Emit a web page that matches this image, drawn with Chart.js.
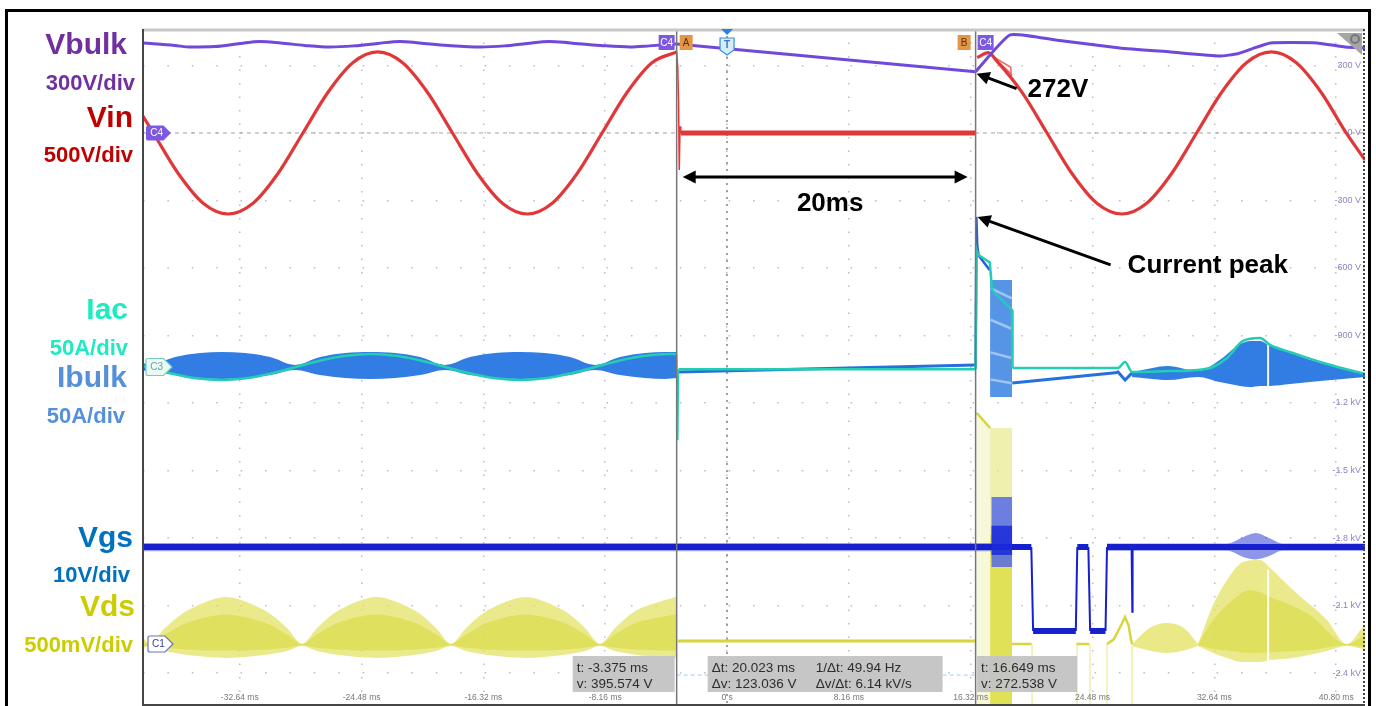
<!DOCTYPE html>
<html>
<head>
<meta charset="utf-8">
<script src="https://cdn.jsdelivr.net/npm/chart.js@4.4.1/dist/chart.umd.min.js"></script>
<style>
  html, body { margin: 0; padding: 0; background: #fff; overflow: hidden; }
  canvas { display: block; }
</style>
</head>
<body>
<canvas id="scope" width="1376" height="706"></canvas>
<script>
// ---------- axes: time in ms, vertical in volts of the C4 grid (300 V/div) ----------
const timeTicks = [-32.64, -24.48, -16.32, -8.16, 0, 8.16, 16.32, 24.48, 32.64, 40.80];
const timeTickLabels = ['-32.64 ms', '-24.48 ms', '-16.32 ms', '-8.16 ms', '0 s', '8.16 ms', '16.32 ms', '24.48 ms', '32.64 ms', '40.80 ms'];
const voltTicks = [300, 0, -300, -600, -900, -1200, -1500, -1800, -2100, -2400];
const voltTickLabels = ['300 V', '0 V', '-300 V', '-600 V', '-900 V', '-1.2 kV', '-1.5 kV', '-1.8 kV', '-2.1 kV', '-2.4 kV'];
const timeRange = [-39.12, 42.73];
const voltRange = [-2542, 462];

// ---------- cursors ----------
const cursorA = { t: -3.375, v: 395.574 };
const cursorB = { t: 16.649, v: 272.538 };
const readoutA = ['t: -3.375 ms', 'v: 395.574 V'];
const readoutDelta = [['Δt: 20.023 ms', '1/Δt: 49.94 Hz'], ['Δv: 123.036 V', 'Δv/Δt: 6.14 kV/s']];
const readoutB = ['t: 16.649 ms', 'v: 272.538 V'];

// ---------- Vbulk (C4) ----------
const vbulkRippleT = [-39.12, -37.0, -35.97, -34.3, -32.6, -31.3, -29.9, -28.3, -26.6, -25.0, -23.4, -21.9, -20.6, -18.7, -16.5, -14.9, -13.4, -11.9, -10.5, -8.5, -6.5, -5.2, -3.375];
const vbulkRippleV = [400, 389, 382, 384, 398, 407, 400, 389, 382, 387, 398, 407, 400, 389, 382, 387, 398, 407, 400, 389, 382, 387, 395.574];
const vbulkHoldT = [-3.375, 16.649];
const vbulkHoldV = [395.574, 272.538];
const vbulkRecoverT = [16.649, 18.96, 22.0, 26.3, 29.7, 33.0, 34.2, 35.2, 36.4, 39.5, 41.4, 42.73];
const vbulkRecoverV = [272.538, 436, 413, 378, 360, 342, 352, 375, 400, 400, 382, 378];

// ---------- Vin ----------
const vinLineT = [-39.12, -38.43, -36.76, -35.09, -33.42, -31.75, -30.08, -28.41, -26.74, -25.07, -23.40, -21.73, -20.06, -18.39, -16.72, -15.05, -13.38, -11.71, -10.04, -8.37, -6.70, -5.03, -3.375];
const vinLineV = [75, 0, -180, -312, -360, -312, -180, 0, 180, 312, 360, 312, 180, 0, -180, -312, -360, -312, -180, 0, 180, 312, 360];
const vinDropT = [-3.375, -3.30, -3.25, -3.20, -3.15, -3.10];
const vinDropV = [360, 290, 147, -164, 30, 0];
const vinOffT = [-3.10, 16.649];
const vinOffV = [0, 0];
const vinBackT = [16.75, 17.5, 18.09, 19.76, 21.43, 23.10, 24.77, 26.44, 28.11, 29.78, 31.45, 33.12, 34.79, 36.46, 38.13, 39.80, 41.47, 42.73];
const vinBackV = [335, 357, 318, 180, 0, -180, -312, -360, -312, -180, 0, 180, 312, 360, 312, 180, 0, -120];
const vinRingT = [17.6, 19.1, null, 17.8, 19.0, 19.05];
const vinRingV = [352, 258, null, 340, 292, 240];

// ---------- Iac (C3) ----------
const iacLineT = [-39.12, -38.9, -37.23, -35.56, -33.89, -32.22, -30.55, -28.88, -27.21, -25.54, -23.87, -22.2, -20.53, -18.86, -17.19, -15.52, -13.85, -12.18, -10.51, -8.84, -7.17, -5.5, -3.83, -3.375];
const iacLineV = [-1036, -1040, -1069, -1090, -1098, -1090, -1069, -1040, -1011, -990, -982, -990, -1011, -1040, -1069, -1090, -1098, -1090, -1069, -1040, -1011, -990, -982, -983];
const iacDropT = [-3.375, -3.3, -3.25];
const iacDropV = [-983, -1364, -1050];
const iacOffT = [-3.25, 16.649];
const iacOffV = [-1050, -1050];
const iacSurgeT = [16.649, 16.72, 16.8, 17.6, 17.75, 19.09, 19.12];
const iacSurgeV = [-1050, -520, -540, -575, -698, -787, -1044];
const iacBackT = [19.12, 26.19, 26.66, 27.13, 29.5, 31.55, 32.55, 33.49, 34.56, 35.7, 36.37, 37.91, 40.18, 42.73];
const iacBackV = [-1044, -1044, -1018, -1062, -1058, -1053, -1040, -1000, -924, -911, -942, -978, -1027, -1071];

// ---------- Ibulk ----------
const ibulkT = [-39.12, -38.65, -36.97, -35.3, -33.82, -32.28, -30.61, -28.94, -27.26, -25.59, -23.91, -22.23, -20.56, -18.89, -17.21, -15.54, -13.86, -12.2, -10.52, -8.84, -7.17, -5.49, -4.15, -3.375];
const ibulkTop = [-1022, -1031, -996, -978, -973, -978, -996, -1031, -996, -978, -973, -978, -996, -1031, -996, -978, -973, -978, -996, -1031, -996, -978, -973, -973];
const ibulkBottom = [-1058, -1053, -1076, -1089, -1093, -1089, -1076, -1053, -1076, -1089, -1093, -1089, -1076, -1053, -1076, -1089, -1093, -1089, -1076, -1053, -1076, -1089, -1093, -1089];
const ibulkOffT = [-3.3, 16.649];
const ibulkOffV = [-1062, -1031];
const ibulkSurgeT = [16.649, 16.70, 16.76, 16.85, 17.6];
const ibulkSurgeV = [-1031, -373, -500, -545, -610];
const ibulkBurstT = [17.62, 19.09];
const ibulkBurstTop = [-653, -653];
const ibulkBurstBottom = [-1173, -1173];
const ibulkStreakT = [17.64, 19.07, null, 17.64, 19.07, null, 17.64, 19.07, null, 17.64, 19.07];
const ibulkStreakV = [-690, -735, null, -830, -870, null, -975, -1000, null, -1095, -1112];
const ibulkTailT = [19.1, 26.0, 26.19, 26.66, 27.13];
const ibulkTailV = [-1111, -1066, -1062, -1098, -1066];
const ibulkRiseT = [27.13, 28.5, 29.5, 31.55, 33.0, 34.36, 35.03, 35.7, 36.37, 37.71, 39.72, 42.73];
const ibulkRiseTop = [-1062, -1044, -1036, -1058, -1009, -938, -924, -924, -947, -978, -1022, -1071];
const ibulkRiseBottom = [-1084, -1093, -1098, -1084, -1107, -1124, -1129, -1124, -1124, -1116, -1102, -1084];
const dropoutT = [36.24, 36.24, null, 36.24, 36.24];
const dropoutV = [-880, -1135, null, -1940, -2365];

// ---------- Vgs ----------
const vgsT = [-39.12, 20.38, 20.5, 23.36, 23.46, 24.2, 24.32, 25.35, 25.45, 42.73];
const vgsV = [-1840, -1840, -2213, -2213, -1840, -1840, -2213, -2213, -1840, -1840];
const vgsGlitchT = [27.08, 27.13, 27.18];
const vgsGlitchV = [-1840, -2129, -1840];
const vgsNoiseT = [-39.12, 17.7];
const vgsNoiseTop = [-1822, -1822];
const vgsNoiseBottom = [-1859, -1859];
const vgsBurstT = [17.7, 19.1];
const vgsBurstTop = [-1618, -1618];
const vgsBurstBottom = [-1929, -1929];
const vgsBurstCoreTop = [-1745, -1745];
const vgsBurstCoreBottom = [-1875, -1875];
const vgsTailNoiseT = [25.45, 33.5, 34.6, 35.4, 36.3, 37.2, 42.73];
const vgsTailNoiseTop = [-1824, -1824, -1795, -1778, -1800, -1824, -1824];
const vgsTailNoiseBottom = [-1857, -1857, -1885, -1895, -1880, -1857, -1857];

// ---------- Vds (C1) ----------
const vdsT = [-39.12, -38.65, -37.64, -36.10, -33.55, -31.01, -29.47, -28.47, -27.46, -25.99, -23.48, -20.96, -19.49, -18.49, -17.48, -16.01, -13.50, -10.98, -9.51, -8.51, -7.50, -6.03, -3.48, -3.375];
const vdsTop = [-2240, -2271, -2200, -2120, -2062, -2120, -2200, -2271, -2200, -2120, -2062, -2120, -2200, -2271, -2200, -2120, -2062, -2120, -2200, -2271, -2200, -2120, -2062, -2062];
const vdsBottom = [-2289, -2280, -2302, -2320, -2333, -2320, -2302, -2280, -2302, -2320, -2333, -2320, -2302, -2280, -2302, -2320, -2333, -2320, -2302, -2280, -2302, -2320, -2333, -2333];
const vdsCoreTop = [-2262, -2271, -2228, -2175, -2140, -2175, -2228, -2271, -2228, -2175, -2140, -2175, -2228, -2271, -2228, -2175, -2140, -2175, -2228, -2271, -2228, -2175, -2140, -2140];
const vdsCoreBottom = [-2282, -2276, -2288, -2296, -2300, -2296, -2288, -2276, -2288, -2296, -2300, -2296, -2288, -2276, -2288, -2296, -2300, -2296, -2288, -2276, -2288, -2296, -2300, -2300];
const vdsOffT = [-3.3, 16.649];
const vdsOffV = [-2258, -2258];
const vdsWashT = [16.72, 17.62];
const vdsWashTop = [-1244, -1311];
const vdsWashBottom = [-2542, -2542];
const vdsBlockT = [17.62, 19.09];
const vdsBlockTop = [-1311, -1311];
const vdsBlockMid = [-1786, -1786];
const vdsBlockBottom = [-2542, -2542];
const vdsPiecesT = [16.72, 17.62, null, 19.09, 20.4, null, 23.4, 24.25, null, 25.45, 25.9, 26.3, 26.66, 26.9, 27.05, 27.13];
const vdsPiecesV = [-1244, -1311, null, -2271, -2271, null, -2271, -2271, null, -2271, -2250, -2200, -2151, -2190, -2250, -2271];
const vdsTracesT = [20.43, 20.43, null, 23.44, 23.44, null, 24.31, 24.31, null, 25.45, 25.45, null, 27.13, 27.13];
const vdsTracesV = [-2271, -2542, null, -2271, -2542, null, -2271, -2542, null, -2271, -2542, null, -2271, -2542];
const vdsSmallT = [27.13, 28.3, 29.47, 30.6, 31.55];
const vdsSmallTop = [-2271, -2200, -2178, -2200, -2271];
const vdsSmallBottom = [-2280, -2300, -2311, -2300, -2280];
const vdsBigT = [31.55, 32.55, 33.49, 34.56, 35.70, 36.37, 37.91, 40.18, 41.52, 42.53, 42.73];
const vdsBigTop = [-2271, -2098, -1987, -1907, -1898, -1933, -2031, -2164, -2271, -2200, -2185];
const vdsBigBottom = [-2280, -2311, -2333, -2351, -2351, -2342, -2333, -2302, -2280, -2293, -2296];
const vdsBigCoreT = [31.55, 32.55, 33.49, 35.03, 36.37, 39.05, 41.52, 42.73];
const vdsBigCoreTop = [-2271, -2164, -2098, -2031, -2062, -2142, -2271, -2230];
const vdsBigCoreBottom = [-2276, -2292, -2300, -2311, -2308, -2298, -2276, -2285];

// ---------- colours ----------
const C = {
  vbulk: 'rgb(112,72,218)', vin: 'rgb(224,56,56)', iac: 'rgb(34,206,178)', ibulk: 'rgba(38,118,226,0.95)',
  vgs: 'rgb(22,32,205)', vds: 'rgb(214,214,60)', cursor: 'rgb(118,118,118)', grid: 'rgba(178,178,178,0.85)'
};
const FONT = '"Liberation Sans", Arial, Helvetica, sans-serif';

// ---------- dataset builders ----------
const pts = (ts, vs) => ts.map((t, i) => ({ x: t === null ? ts[i - 1] : t, y: t === null ? null : vs[i] }));
const datasets = [];
function line(ts, vs, opts) {
  datasets.push(Object.assign({ data: pts(ts, vs), borderWidth: 2, pointRadius: 0, fill: false, tension: 0, spanGaps: false }, opts));
}
function band(ts, top, bottom, color, order, opts) {
  datasets.push(Object.assign({ data: pts(ts, bottom), borderWidth: 1, borderColor: 'rgba(0,0,0,0)', pointRadius: 0, fill: false, order }, opts));
  datasets.push(Object.assign({ data: pts(ts, top), borderWidth: 1, borderColor: 'rgba(0,0,0,0)', pointRadius: 0, fill: '-1', backgroundColor: color, order }, opts));
}
const smooth = { cubicInterpolationMode: 'monotone' };

// reference lines (back)
line([timeRange[0], timeRange[1]], [0, 0], { borderColor: 'rgba(150,150,150,0.9)', borderWidth: 1, borderDash: [4, 4], order: 20 });
line([0, 0], [voltRange[1], voltRange[0]], { borderColor: 'rgba(150,150,150,0.9)', borderWidth: 2, borderDash: [2, 5], order: 20 });
line([cursorA.t, cursorB.t], [-2409, -2409], { borderColor: 'rgba(90,200,225,0.7)', borderWidth: 1, borderDash: [4, 3], order: 20 });

// Vds
band(vdsT, vdsTop, vdsBottom, 'rgba(226,226,96,0.72)', 16, { tension: 0.3 });
band(vdsT, vdsCoreTop, vdsCoreBottom, 'rgba(212,212,40,0.45)', 15, { tension: 0.3 });
line(vdsOffT, vdsOffV, { borderColor: C.vds, borderWidth: 3, order: 15 });
band(vdsWashT, vdsWashTop, vdsWashBottom, 'rgba(238,238,170,0.45)', 16);
band(vdsBlockT, vdsBlockTop, vdsBlockMid, 'rgba(232,232,140,0.7)', 16);
band(vdsBlockT, vdsBlockMid, vdsBlockBottom, 'rgba(222,222,70,0.9)', 16);
line(vdsTracesT, vdsTracesV, { borderColor: 'rgba(232,232,150,0.75)', borderWidth: 1.5, order: 16 });
line(vdsPiecesT, vdsPiecesV, { borderColor: C.vds, borderWidth: 2.5, order: 15 });
band(vdsSmallT, vdsSmallTop, vdsSmallBottom, 'rgba(226,226,96,0.75)', 16, smooth);
band(vdsBigT, vdsBigTop, vdsBigBottom, 'rgba(226,226,96,0.72)', 16, smooth);
band(vdsBigCoreT, vdsBigCoreTop, vdsBigCoreBottom, 'rgba(212,212,40,0.45)', 15, smooth);

// Vgs
band(vgsNoiseT, vgsNoiseTop, vgsNoiseBottom, 'rgba(30,45,210,0.45)', 13);
band(vgsTailNoiseT, vgsTailNoiseTop, vgsTailNoiseBottom, 'rgba(30,45,210,0.5)', 13, smooth);
band(vgsBurstT, vgsBurstTop, vgsBurstBottom, 'rgba(70,95,238,0.78)', 13);
band(vgsBurstT, vgsBurstCoreTop, vgsBurstCoreBottom, 'rgba(28,42,218,0.85)', 12);
line(vgsT, vgsV, {
  borderColor: C.vgs, borderWidth: 6, order: 12,
  segment: { borderWidth: ctx => Math.abs(ctx.p1.parsed.x - ctx.p0.parsed.x) < 0.2 ? 2 : 6 }
});
line(vgsGlitchT, vgsGlitchV, { borderColor: C.vgs, borderWidth: 1.5, order: 12 });

// white dropout through the last burst
line(dropoutT, dropoutV, { borderColor: 'rgba(255,255,255,0.95)', borderWidth: 2, order: 11 });

// Ibulk
band(ibulkT, ibulkTop, ibulkBottom, C.ibulk, 10, smooth);
line(ibulkOffT, ibulkOffV, { borderColor: 'rgb(40,110,220)', borderWidth: 3, order: 10 });
line(ibulkSurgeT, ibulkSurgeV, { borderColor: 'rgb(40,95,215)', borderWidth: 2.5, order: 10 });
band(ibulkBurstT, ibulkBurstTop, ibulkBurstBottom, 'rgba(72,140,228,0.92)', 10);
line(ibulkStreakT, ibulkStreakV, { borderColor: 'rgba(175,205,245,0.85)', borderWidth: 2.5, order: 9 });
line(ibulkTailT, ibulkTailV, { borderColor: 'rgb(38,112,222)', borderWidth: 3, order: 10 });
band(ibulkRiseT, ibulkRiseTop, ibulkRiseBottom, C.ibulk, 10, smooth);
line(dropoutT.slice(0, 2), dropoutV.slice(0, 2), { borderColor: 'rgba(255,255,255,0.95)', borderWidth: 2, order: 8 });

// Iac
line(iacLineT, iacLineV, Object.assign({ borderColor: C.iac, borderWidth: 2.5, order: 7 }, smooth));
line(iacDropT, iacDropV, { borderColor: C.iac, borderWidth: 1.5, order: 7 });
line(iacOffT, iacOffV, { borderColor: C.iac, borderWidth: 2.5, order: 7 });
line(iacSurgeT, iacSurgeV, { borderColor: C.iac, borderWidth: 2.5, order: 7 });
line(iacBackT, iacBackV, Object.assign({ borderColor: C.iac, borderWidth: 2.5, order: 7 }, smooth));

// Vin
line(vinLineT, vinLineV, Object.assign({ borderColor: C.vin, borderWidth: 3.2, order: 5 }, smooth));
line(vinDropT, vinDropV, { borderColor: C.vin, borderWidth: 1.5, order: 5 });
line(vinOffT, vinOffV, { borderColor: C.vin, borderWidth: 5, order: 5 });
line(vinBackT, vinBackV, Object.assign({ borderColor: C.vin, borderWidth: 3.2, order: 5 }, smooth));
line(vinRingT, vinRingV, { borderColor: 'rgba(228,70,70,0.8)', borderWidth: 1.5, order: 5 });

// Vbulk
line(vbulkRippleT, vbulkRippleV, Object.assign({ borderColor: C.vbulk, borderWidth: 3, order: 4 }, smooth));
line(vbulkHoldT, vbulkHoldV, { borderColor: C.vbulk, borderWidth: 3, order: 4 });
line(vbulkRecoverT, vbulkRecoverV, { borderColor: C.vbulk, borderWidth: 3, order: 4, tension: 0.15 });

// cursors
line([cursorA.t, cursorA.t], [voltRange[1], voltRange[0]], { borderColor: C.cursor, borderWidth: 1.5, order: 1 });
line([cursorB.t, cursorB.t], [voltRange[1], voltRange[0]], { borderColor: C.cursor, borderWidth: 1.5, order: 1 });

// ---------- drawing helpers ----------
function tag(ctx, x, y, w, h, fill, stroke, text, color, pointed) {
  ctx.save();
  ctx.beginPath();
  if (pointed) {
    ctx.moveTo(x + 2, y);
    ctx.lineTo(x + w - h / 2, y);
    ctx.lineTo(x + w, y + h / 2);
    ctx.lineTo(x + w - h / 2, y + h);
    ctx.lineTo(x + 2, y + h);
    ctx.quadraticCurveTo(x, y + h, x, y + h - 2);
    ctx.lineTo(x, y + 2);
    ctx.quadraticCurveTo(x, y, x + 2, y);
  } else {
    ctx.rect(x, y, w, h);
  }
  ctx.fillStyle = fill;
  ctx.fill();
  if (stroke) { ctx.strokeStyle = stroke; ctx.lineWidth = 1.2; ctx.stroke(); }
  ctx.fillStyle = color;
  ctx.font = `10px ${FONT}`;
  ctx.textAlign = 'center';
  ctx.textBaseline = 'middle';
  ctx.fillText(text, x + (pointed ? (w - h / 2) / 2 + 2 : w / 2), y + h / 2 + 0.5);
  ctx.restore();
}

function arrow(ctx, x1, y1, x2, y2, both) {
  const L = 13, W = 6.5;
  const a = Math.atan2(y2 - y1, x2 - x1);
  const head = (x, y, ang) => {
    ctx.beginPath();
    ctx.moveTo(x, y);
    ctx.lineTo(x - L * Math.cos(ang) + W * Math.sin(ang), y - L * Math.sin(ang) - W * Math.cos(ang));
    ctx.lineTo(x - L * Math.cos(ang) - W * Math.sin(ang), y - L * Math.sin(ang) + W * Math.cos(ang));
    ctx.closePath();
    ctx.fill();
  };
  ctx.save();
  ctx.strokeStyle = '#000';
  ctx.fillStyle = '#000';
  ctx.lineWidth = 3;
  ctx.beginPath();
  ctx.moveTo(both ? x1 + (L - 3) * Math.cos(a) : x1, both ? y1 + (L - 3) * Math.sin(a) : y1);
  ctx.lineTo(x2 - (L - 3) * Math.cos(a), y2 - (L - 3) * Math.sin(a));
  ctx.stroke();
  head(x2, y2, a);
  if (both) head(x1, y1, a + Math.PI);
  ctx.restore();
}

function readout(ctx, x, y, w, h, rows, cols) {
  ctx.save();
  ctx.fillStyle = 'rgba(196,196,196,0.96)';
  ctx.beginPath();
  ctx.rect(x, y, w, h);
  ctx.fill();
  ctx.fillStyle = 'rgb(45,45,45)';
  ctx.font = `13.5px ${FONT}`;
  ctx.textAlign = 'left';
  ctx.textBaseline = 'alphabetic';
  rows.forEach((row, r) => {
    const cells = Array.isArray(row) ? row : [row];
    cells.forEach((txt, c) => ctx.fillText(txt, x + 4 + (cols ? cols[c] : 0), y + 16 + r * 16));
  });
  ctx.restore();
}

const sideLabels = [
  { text: 'Vbulk', size: 30, color: '#7030A0', x: 127, y: 54 },
  { text: '300V/div', size: 22, color: '#7030A0', x: 135, y: 90 },
  { text: 'Vin', size: 30, color: '#C00000', x: 133, y: 127 },
  { text: '500V/div', size: 22, color: '#C00000', x: 133, y: 162 },
  { text: 'Iac', size: 30, color: '#1EEBC3', x: 128, y: 319 },
  { text: '50A/div', size: 22, color: '#1EEBC3', x: 128, y: 355 },
  { text: 'Ibulk', size: 30, color: '#5590D9', x: 127, y: 387 },
  { text: '50A/div', size: 22, color: '#5590D9', x: 125, y: 423 },
  { text: 'Vgs', size: 30, color: '#0070C0', x: 133, y: 547 },
  { text: '10V/div', size: 22, color: '#0070C0', x: 130, y: 582 },
  { text: 'Vds', size: 30, color: '#CCCC00', x: 135, y: 616 },
  { text: '500mV/div', size: 22, color: '#CCCC00', x: 133, y: 652 }
];

const scopeDecor = {
  id: 'scopeDecor',
  beforeDraw(chart) {
    const ctx = chart.ctx;
    ctx.save();
    ctx.fillStyle = '#fff';
    ctx.fillRect(0, 0, chart.width, chart.height);
    ctx.restore();
  },
  afterDatasetsDraw(chart) {
    const ctx = chart.ctx;
    const { left, right, top, bottom } = chart.chartArea;
    const xs = chart.scales.x, ys = chart.scales.y;
    const ax = xs.getPixelForValue(cursorA.t), bx = xs.getPixelForValue(cursorB.t), tx = xs.getPixelForValue(0);
    ctx.save();

    // plot border
    ctx.strokeStyle = 'rgb(200,200,200)'; ctx.lineWidth = 3;
    ctx.beginPath(); ctx.moveTo(left, top + 1); ctx.lineTo(right, top + 1); ctx.stroke();
    ctx.strokeStyle = 'rgb(70,70,70)'; ctx.lineWidth = 2;
    ctx.beginPath(); ctx.moveTo(left, top); ctx.lineTo(left, chart.height); ctx.stroke();
    ctx.beginPath(); ctx.moveTo(left, bottom); ctx.lineTo(right, bottom); ctx.stroke();
    ctx.setLineDash([2, 2]);
    ctx.beginPath(); ctx.moveTo(right - 1, top); ctx.lineTo(right - 1, chart.height); ctx.stroke();
    ctx.setLineDash([]);

    // tick labels
    ctx.font = `8.5px ${FONT}`;
    ctx.fillStyle = 'rgb(120,120,120)';
    ctx.textAlign = 'center'; ctx.textBaseline = 'alphabetic';
    timeTicks.forEach((t, i) => ctx.fillText(timeTickLabels[i], xs.getPixelForValue(t), bottom - 5));
    ctx.font = `9px ${FONT}`;
    ctx.fillStyle = 'rgba(125,105,185,0.85)';
    ctx.textAlign = 'right'; ctx.textBaseline = 'middle';
    voltTicks.forEach((v, i) => ctx.fillText(voltTickLabels[i], right - 4, ys.getPixelForValue(v)));

    // channel tags
    tag(ctx, left + 3, ys.getPixelForValue(0) - 7.5, 25, 15, 'rgb(125,88,225)', null, 'C4', '#fff', true);
    tag(ctx, left + 3, ys.getPixelForValue(-1040) - 8.5, 26, 17, 'rgb(236,250,246)', 'rgb(120,205,185)', 'C3', 'rgb(100,165,155)', true);
    tag(ctx, left + 5, ys.getPixelForValue(-2271) - 8, 25, 16, '#fff', 'rgb(105,115,190)', 'C1', 'rgb(55,65,150)', true);
    tag(ctx, ax - 18, top + 6, 16, 15, 'rgb(125,88,225)', null, 'C4', '#fff', false);
    tag(ctx, ax + 3, top + 6, 13, 15, 'rgb(226,150,70)', null, 'A', 'rgb(90,50,10)', false);
    tag(ctx, bx - 18, top + 6, 13, 15, 'rgb(226,150,70)', null, 'B', 'rgb(90,50,10)', false);
    tag(ctx, bx + 2, top + 6, 16, 15, 'rgb(125,88,225)', null, 'C4', '#fff', false);
    // trigger marker
    ctx.fillStyle = 'rgb(40,130,222)';
    ctx.beginPath(); ctx.moveTo(tx - 6, top); ctx.lineTo(tx + 6, top); ctx.lineTo(tx, top + 6); ctx.closePath(); ctx.fill();
    ctx.beginPath();
    ctx.moveTo(tx - 7, top + 9); ctx.lineTo(tx + 7, top + 9); ctx.lineTo(tx + 7, top + 21);
    ctx.lineTo(tx, top + 26); ctx.lineTo(tx - 7, top + 21); ctx.closePath();
    ctx.fillStyle = 'rgb(214,236,250)'; ctx.fill();
    ctx.strokeStyle = 'rgb(60,140,212)'; ctx.lineWidth = 1.2; ctx.stroke();
    ctx.fillStyle = 'rgb(50,120,200)'; ctx.font = `bold 10px ${FONT}`; ctx.textAlign = 'center'; ctx.textBaseline = 'middle';
    ctx.fillText('T', tx, top + 16);
    // zoom badge, top right
    ctx.fillStyle = 'rgb(165,165,165)';
    ctx.beginPath(); ctx.moveTo(right - 28, top + 4); ctx.lineTo(right - 3, top + 4); ctx.lineTo(right - 3, top + 26); ctx.closePath(); ctx.fill();
    ctx.strokeStyle = 'rgb(120,120,120)'; ctx.lineWidth = 2;
    ctx.beginPath(); ctx.arc(right - 10, top + 10, 4, 0, Math.PI * 2); ctx.stroke();

    // cursor readouts
    readout(ctx, ax - 104, bottom - 49, 102, 36, readoutA);
    readout(ctx, ax + 31, bottom - 49, bx - ax - 64, 36, readoutDelta, [0, 104]);
    readout(ctx, bx + 1.5, bottom - 49, 100, 36, readoutB);

    // annotations
    ctx.fillStyle = '#000';
    ctx.font = `bold 26px ${FONT}`;
    ctx.textAlign = 'left'; ctx.textBaseline = 'alphabetic';
    const hb = { x: bx + 1, y: ys.getPixelForValue(cursorB.v) + 2 };
    arrow(ctx, hb.x + 40, hb.y + 15, hb.x, hb.y, false);
    ctx.fillText('272V', hb.x + 51, hb.y + 23);

    const y20 = ys.getPixelForValue(-196);
    arrow(ctx, ax + 6, y20, bx - 8, y20, true);
    ctx.textAlign = 'center';
    ctx.fillText('20ms', (ax + bx) / 2 + 4, y20 + 34);

    const hp = { x: bx + 2, y: ys.getPixelForValue(-373) };
    arrow(ctx, hp.x + 133, hp.y + 48, hp.x, hp.y, false);
    ctx.textAlign = 'left';
    ctx.fillText('Current peak', hp.x + 150, hp.y + 56);

    // channel names and scales
    ctx.textAlign = 'right';
    sideLabels.forEach(l => {
      ctx.font = `bold ${l.size}px ${FONT}`;
      ctx.fillStyle = l.color;
      ctx.fillText(l.text, l.x, l.y);
    });

    // outer frame
    ctx.strokeStyle = '#000'; ctx.lineWidth = 3;
    ctx.strokeRect(6.5, 10.5, 1363, 710);
    ctx.restore();
  }
};

new Chart(document.getElementById('scope'), {
  type: 'line',
  data: { datasets },
  options: {
    responsive: false,
    animation: false,
    devicePixelRatio: 1,
    events: [],
    layout: { padding: { left: 143, right: 11, top: 29, bottom: 1 } },
    plugins: { legend: { display: false }, tooltip: { enabled: false } },
    scales: {
      x: {
        type: 'linear', min: timeRange[0], max: timeRange[1],
        afterBuildTicks: s => { s.ticks = timeTicks.map(v => ({ value: v })); },
        afterFit: s => { s.height = 0; },
        ticks: { display: false },
        grid: { color: C.grid, lineWidth: 1.5, drawTicks: false },
        border: { display: false, dash: [1.5, 12] }
      },
      y: {
        type: 'linear', min: voltRange[0], max: voltRange[1],
        afterBuildTicks: s => { s.ticks = voltTicks.map(v => ({ value: v })); },
        afterFit: s => { s.width = 0; },
        ticks: { display: false },
        grid: { color: C.grid, lineWidth: 1.5, drawTicks: false },
        border: { display: false, dash: [1.5, 22.9] }
      }
    }
  },
  plugins: [scopeDecor]
});
</script>
</body>
</html>
